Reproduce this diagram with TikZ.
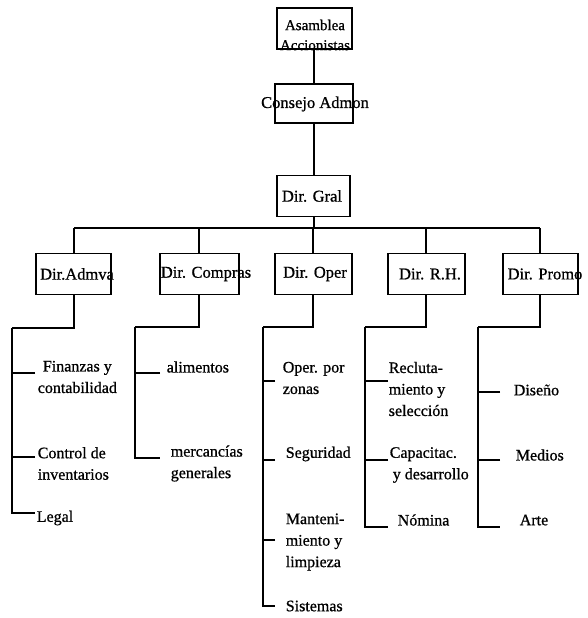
\documentclass[tikz,border=0pt]{standalone}
\usepackage{fontspec}
\setmainfont{Liberation Serif}[FakeBold=0.8]
\begin{document}
\begin{tikzpicture}[x=1pt,y=-1pt,line width=1.6pt,
  box/.style={draw,line width=1.8pt,minimum width=#1,minimum height=41pt,inner sep=0pt},
  box/.default=76pt,
  lbl/.style={inner sep=0pt,font=\fontsize{16.5}{20}\selectfont},
  leaf/.style={inner sep=0pt,anchor=west,align=left,font=\fontsize{16}{21.5}\selectfont},
  thin/.style={line width=1.1pt}]
\useasboundingbox (0,0) rectangle (588,618);
% top chain
\node[box=75pt] (asam) at (314.5,28.5) {};
\node[inner sep=0pt,align=center,font=\fontsize{15}{20}\selectfont] (asamT) at (315,35) {Asamblea\\Accionistas};
\node[box=78pt,minimum height=39pt] (cons) at (314,103.5) {};
\node[lbl] (consT) at (315,104) {Consejo Admon};
\node[box=73pt] (gral) at (313.5,196) {};
\node[lbl] (gralT) at (312,196) {Dir. Gral};
\draw (asam.south -| 314,0) -- (cons.north -| 314,0);
\draw (cons.south -| 314,0) -- (gral.north -| 314,0);
% bus
\coordinate (busL) at (74,228);
\coordinate (busR) at (540,228);
\draw (gral.south -| 314,0) -- (314,228);
\draw (busL) -- (busR);
% directors
\node[box=75pt] (admva) at (73.5,274) {};
\node[lbl] (admvaT) at (77,274) {Dir.Admva};
\node[box=79pt] (comp) at (199.5,274) {};
\node[lbl] (compT) at (206,274) {Dir. Compras};
\node[box=77pt] (oper) at (313.5,274) {};
\node[lbl] (operT) at (315,274) {Dir. Oper};
\node[box=77pt] (rh) at (426.5,274) {};
\node[lbl] (rhT) at (430,274) {Dir. R.H.};
\node[box=75pt] (promo) at (540.5,274) {};
\node[lbl] (promoT) at (545,274) {Dir. Promo};
\draw (busL) -- (busL |- admva.north);
\draw (comp.north -| 199,0) -- (199,228);
\draw (oper.north -| 313,0) -- (313,228);
\draw (rh.north -| 426,0) -- (426,228);
\draw (busR) -- (busR |- promo.north);
% Admva branch
\coordinate (aT) at (12,328);
\coordinate (aB) at (12,513);
\coordinate (aS1) at (35,373);
\coordinate (aS2) at (35,457);
\coordinate (aS3) at (35,513);
\draw[thin] (admva.south -| 74,0) -- (74,328) -- (aT);
\draw (aT) -- (aB) -- (aS3);
\draw (aS1) -- (aS1 -| aT);
\draw (aS2) -- (aS2 -| aT);
\node[leaf,align=center] (fin) at (37,377) {Finanzas y\\contabilidad};
\node[leaf] (ctrl) at (37,463.5) {Control de\\inventarios};
\node[leaf] (legal) at (36,518) {Legal};
% Compras branch
\coordinate (cT) at (135,327);
\coordinate (cB) at (135,458);
\coordinate (cS1) at (160,373);
\coordinate (cS2) at (160,458);
\draw (comp.south -| 199,0) -- (199,327) -- (cT);
\draw (cT) -- (cB) -- (cS2);
\draw (cS1) -- (cS1 -| cT);
\node[leaf] (alim) at (166,367) {alimentos};
\node[leaf] (merc) at (170,463.5) {mercancías\\generales};
% Oper branch
\coordinate (oT) at (263,327);
\coordinate (oB) at (263,606);
\coordinate (oS1) at (275,381);
\coordinate (oS2) at (275,460);
\coordinate (oS3) at (275,540);
\coordinate (oS4) at (275,606);
\draw (oper.south -| 313,0) -- (313,327) -- (oT);
\draw (oT) -- (oB) -- (oS4);
\draw (oS1) -- (oS1 -| oT);
\draw (oS2) -- (oS2 -| oT);
\draw (oS3) -- (oS3 -| oT);
\node[leaf] (zon) at (282,378) {Oper. por\\zonas};
\node[leaf] (seg) at (285,454) {Seguridad};
\node[leaf] (mant) at (285,542) {Manteni-\\miento y\\limpieza};
\node[leaf] (sist) at (285,606) {Sistemas};
% RH branch
\coordinate (rT) at (365,327);
\coordinate (rB) at (365,527);
\coordinate (rS1) at (388,381);
\coordinate (rS2) at (388,460);
\coordinate (rS3) at (388,527);
\draw (rh.south -| 426,0) -- (426,327) -- (rT);
\draw (rT) -- (rB) -- (rS3);
\draw (rS1) -- (rS1 -| rT);
\draw (rS2) -- (rS2 -| rT);
\node[leaf] (recl) at (388,389) {Recluta-\\miento y\\selección};
\node[leaf] (cap) at (389,465) {Capacitac.\\\hspace*{3pt}y desarrollo};
\node[leaf] (nom) at (397,520) {Nómina};
% Promo branch
\coordinate (pT) at (478,327);
\coordinate (pB) at (478,527);
\coordinate (pS1) at (500,392);
\coordinate (pS2) at (500,460);
\coordinate (pS3) at (500,527);
\draw (promo.south -| 540,0) -- (540,327) -- (pT);
\draw (pT) -- (pB) -- (pS3);
\draw (pS1) -- (pS1 -| pT);
\draw (pS2) -- (pS2 -| pT);
\node[leaf] (dis) at (513,390) {Diseño};
\node[leaf] (med) at (515,455) {Medios};
\node[leaf] (arte) at (519,520) {Arte};
\end{tikzpicture}
\end{document}
